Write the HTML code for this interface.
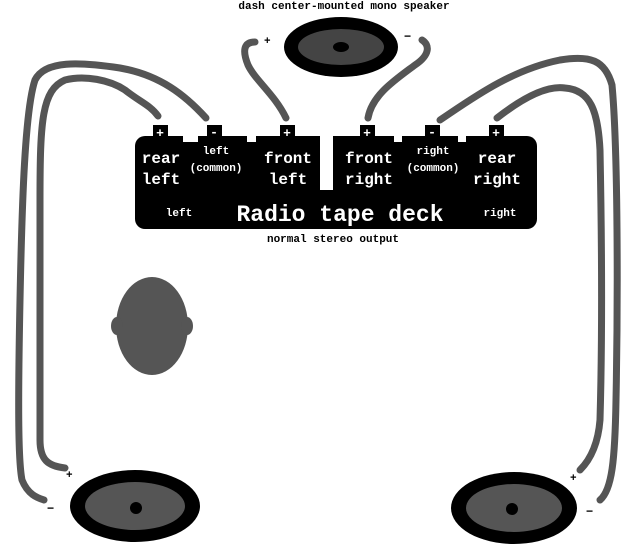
<!DOCTYPE html>
<html><head><style>
body{margin:0;background:#fff}
svg{display:block}
text{font-family:"Liberation Mono",monospace;font-weight:bold}
</style></head><body>
<svg width="640" height="550" viewBox="0 0 640 550">
<g fill="none" stroke="#555" stroke-width="7" stroke-linecap="round" stroke-linejoin="round">
<path d="M206,118 C185,95 160,75 120,68 C80,62 45,60 35,80 C25,110 22,200 20,300 C18,400 18,460 22,480 C28,495 38,498 44,500"/>
<path d="M158,116 C150,105 140,102 125,90 C110,80 85,75 65,80 C42,90 40,120 40,200 C40,300 40,400 40,440 C40,460 48,466 65,468"/>
<path d="M286,118 C275,95 255,80 248,65 C242,50 244,42 255,42"/>
<path d="M368,118 C372,95 395,80 415,65 C430,55 430,45 422,40"/>
<path d="M440,120 C470,100 510,70 560,60 C590,55 605,60 612,85 C618,150 618,300 616,400 C615,460 612,490 600,500"/>
<path d="M497,118 C520,100 545,85 565,88 C590,90 598,110 600,150 C602,250 602,350 600,420 C598,445 590,460 580,470"/>
</g>
<text x="344" y="9" font-size="11" text-anchor="middle" fill="#000">dash center-mounted mono speaker</text>
<text x="264" y="44" font-size="11" fill="#000">+</text>
<text x="404" y="40" font-size="12" fill="#000">−</text>
<ellipse cx="341" cy="47" rx="57" ry="30" fill="#000"/>
<ellipse cx="341" cy="47" rx="43" ry="18" fill="#444"/>
<ellipse cx="341" cy="47" rx="8" ry="5" fill="#000"/>
<rect x="135" y="136" width="402" height="93" rx="10" fill="#000"/>
<rect x="183" y="134" width="15" height="8" fill="#fff"/>
<rect x="247" y="134" width="9" height="8" fill="#fff"/>
<rect x="394" y="134" width="8" height="8" fill="#fff"/>
<rect x="458" y="134" width="8" height="8" fill="#fff"/>
<rect x="320" y="134" width="13" height="56" fill="#fff"/>
<g fill="#000">
<rect x="153" y="125" width="15" height="14"/><rect x="207" y="125" width="15" height="14"/>
<rect x="280" y="125" width="15" height="14"/><rect x="360" y="125" width="15" height="14"/>
<rect x="425" y="125" width="15" height="14"/><rect x="489" y="125" width="15" height="14"/>
</g>
<g fill="#fff" font-size="13" text-anchor="middle">
<text x="160" y="137">+</text><text x="214" y="136">-</text><text x="287" y="137">+</text>
<text x="367" y="137">+</text><text x="432" y="136">-</text><text x="496" y="137">+</text>
</g>
<g fill="#fff" font-size="16" text-anchor="middle">
<text x="161" y="163">rear</text><text x="161" y="184">left</text>
<text x="288" y="163">front</text><text x="288" y="184">left</text>
<text x="369" y="163">front</text><text x="369" y="184">right</text>
<text x="497" y="163">rear</text><text x="497" y="184">right</text>
</g>
<g fill="#fff" font-size="11" text-anchor="middle">
<text x="216" y="154">left</text><text x="216" y="171">(common)</text>
<text x="433" y="154">right</text><text x="433" y="171">(common)</text>
<text x="179" y="216">left</text><text x="500" y="216">right</text>
</g>
<text x="340" y="221" font-size="23" fill="#fff" text-anchor="middle">Radio tape deck</text>
<text x="333" y="242" font-size="11" fill="#000" text-anchor="middle">normal stereo output</text>
<g fill="#555">
<ellipse cx="152" cy="326" rx="36" ry="49"/>
<ellipse cx="117" cy="326" rx="6" ry="9"/><ellipse cx="187" cy="326" rx="6" ry="9"/>
</g>
<text x="66" y="478" font-size="11" fill="#000">+</text>
<text x="47" y="512" font-size="12" fill="#000">−</text>
<text x="570" y="481" font-size="11" fill="#000">+</text>
<text x="586" y="515" font-size="12" fill="#000">−</text>
<ellipse cx="135" cy="506" rx="65" ry="36" fill="#000"/>
<ellipse cx="135" cy="506" rx="50" ry="24" fill="#555"/>
<circle cx="136" cy="508" r="6" fill="#000"/>
<ellipse cx="514" cy="508" rx="63" ry="36" fill="#000"/>
<ellipse cx="514" cy="508" rx="48" ry="24" fill="#555"/>
<circle cx="512" cy="509" r="6" fill="#000"/>
</svg>
</body></html>
